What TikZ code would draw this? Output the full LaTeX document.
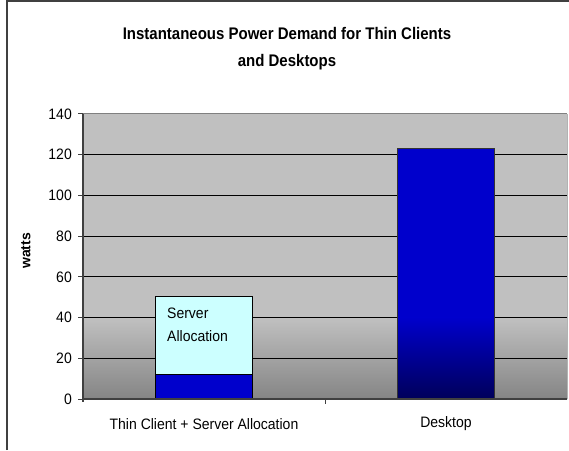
\documentclass[tikz,border=0pt]{standalone}
\usepackage{fontspec}
\setmainfont{Liberation Sans}
\definecolor{wallgray}{HTML}{C0C0C0}
\definecolor{walldark}{HTML}{585858}
\definecolor{wallmid}{HTML}{858585}
\definecolor{barblue}{HTML}{0000CC}
\definecolor{barnavy}{HTML}{000070}
\definecolor{bardeep}{HTML}{00005A}
\definecolor{servercyan}{HTML}{CCFFFF}
\definecolor{framegray}{HTML}{404040}

\begin{document}
\begin{tikzpicture}[x=1pt, y=1pt,
        ticklabel/.style={left, inner sep=0pt, yscale=1.08, transform shape, font=\fontsize{14}{16}\selectfont},
        catlabel/.style={inner sep=0pt, yscale=1.08, transform shape, font=\fontsize{14}{16}\selectfont},
        gridline/.style={black, line width=0.9pt}]
                \useasboundingbox (0,0) rectangle (569,450);
                \draw [framegray, line width=1.5pt] (7,0) -- (7,449) -- (569,449);

                \node [align=center, yscale=1.12, transform shape, font=\bfseries\fontsize{15}{24.5}\selectfont] (title) at (287,401.5)
                        {Instantaneous Power Demand for Thin Clients\\and Desktops};

                \begin{scope}[shift={(83,51)}, y=2.036pt]
                % plot wall
                \fill [wallgray] (0,40) rectangle (484,140);
                \shade [top color=wallgray, middle color=walldark, bottom color=wallmid] (0,0) rectangle (484,40);
                \foreach \v in {20,40,...,120}
                        \draw [gridline] (0,\v) -- (484,\v);
                \draw [gray, line width=1pt] (0,140) -- (484,140);
                \draw [black!30, line width=1pt] (484,140) -- (484,0);

                % thin client + server allocation
                \draw [fill=servercyan, line width=0.6pt] (72,12) rectangle (169,50.5);
                \draw [fill=barblue, line width=0.6pt] (72,0) rectangle (169,12);
                \node [anchor=west, align=left, inner sep=0pt, yscale=1.08, transform shape, font=\fontsize{14}{22}\selectfont] (serverlabel) at (84,36.4)
                        {Server\\Allocation};

                % desktop
                \fill [barblue] (314,40) rectangle (411,123.3);
                \shade [top color=barblue, middle color=barnavy, bottom color=bardeep] (314,0) rectangle (411,40);
                \draw [black!80, line width=0.8pt] (314,0) rectangle (411,123.3);

                % axes
                \draw [framegray, line width=1.2pt] (0,140) -- (0,-1.5);
                \draw [framegray, line width=1.5pt] (0,0) -- (484,0);
                \draw [framegray, line width=1pt] (242,0) -- (242,-2.5);
                \foreach \v in {0,20,...,140} {
                        \draw [framegray, line width=1pt] (-5,\v) -- (0,\v);
                        \node [ticklabel] (tick\v) at (-11,\v) {\v};
                }

                \node [inner sep=0pt, rotate=90, font=\bfseries\fontsize{14}{16}\selectfont] (ylabel) at (-57,72.7) {watts};
                \node [catlabel] (catthin) at (121,-12.3) {Thin Client + Server Allocation};
                \node [catlabel] (catdesk) at (363,-12.3) {Desktop};
                \end{scope}
\end{tikzpicture}
\end{document}
